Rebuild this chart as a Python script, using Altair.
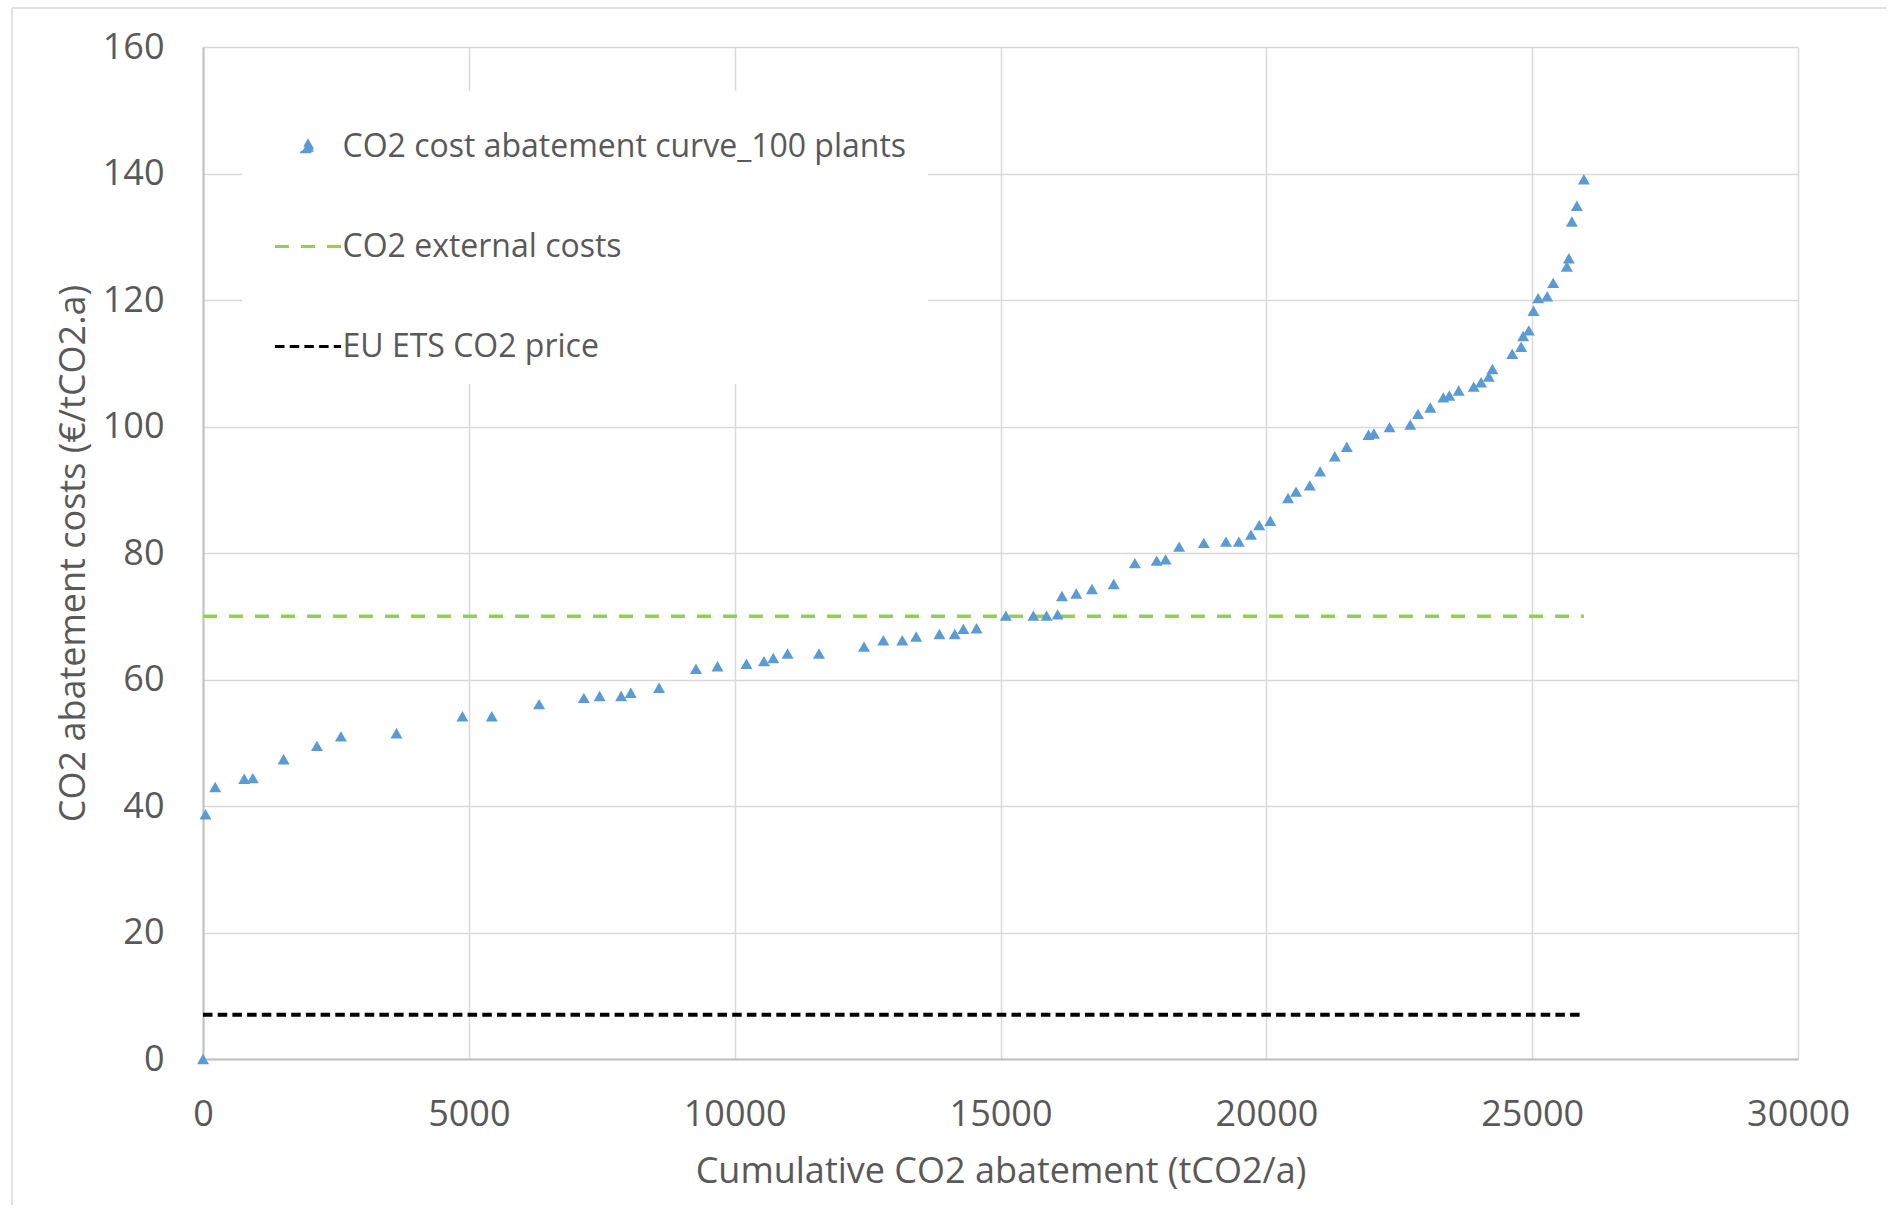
import altair as alt
import pandas as pd

# Cumulative abatement (tCO2/a) and abatement cost (EUR/tCO2.a) per plant, sorted by cost
abatement_x = [
    0, 47, 229, 775, 937, 1516, 2143, 2594, 3639, 4879,
    5431, 6321, 7163, 7460, 7864, 8046, 8578, 9272, 9677, 10222,
    10551, 10726, 10995, 11586, 12433, 12796, 13152, 13414, 13851, 14140,
    14301, 14550, 15101, 15618, 15866, 16075, 16156, 16425, 16720, 17130,
    17527, 17937, 18105, 18360, 18824, 19241, 19483, 19711, 19866, 20075,
    20408, 20559, 20817, 21011, 21288, 21514, 21922, 22023, 22318, 22707,
    22852, 23084, 23329, 23442, 23618, 23901, 24039, 24184, 24253, 24624,
    24793, 24831, 24937, 25025, 25113, 25282, 25395, 25652, 25690, 25747,
    25841, 25973,
]
abatement_cost = [
    0.0, 38.7, 43.0, 44.3, 44.4, 47.4, 49.5, 51.0, 51.5, 54.2,
    54.2, 56.1, 57.1, 57.4, 57.4, 57.9, 58.7, 61.7, 62.1, 62.5,
    62.9, 63.4, 64.1, 64.1, 65.2, 66.2, 66.2, 66.8, 67.2, 67.2,
    68.0, 68.1, 70.1, 70.1, 70.1, 70.3, 73.2, 73.6, 74.3, 75.1,
    78.4, 78.8, 79.0, 81.0, 81.6, 81.8, 81.8, 82.9, 84.4, 85.1,
    88.7, 89.7, 90.7, 92.9, 95.3, 96.8, 98.7, 98.9, 99.9, 100.3,
    102.0, 103.0, 104.6, 104.9, 105.7, 106.3, 107.0, 107.9, 109.1, 111.5,
    112.6, 114.3, 115.2, 118.3, 120.3, 120.6, 122.7, 125.3, 126.6, 132.4,
    134.9, 139.1,
]

# Reference price levels (EUR/tCO2)
external_cost = 70
ets_price = 7
line_start = 0
line_end = 25973

series_names = [
    "CO2 cost abatement curve_100 plants",
    "CO2 external costs",
    "EU ETS CO2 price",
]
series_colors = ["#5B9BD5", "#92D050", "#000000"]

x_ticks = [0, 5000, 10000, 15000, 20000, 25000, 30000]
y_ticks = [0, 20, 40, 60, 80, 100, 120, 140, 160]

points = pd.DataFrame({"x": abatement_x, "y": abatement_cost, "series": series_names[0]})
ext_line = pd.DataFrame({"x": [line_start, line_end], "y": [external_cost] * 2, "series": series_names[1]})
ets_line = pd.DataFrame({"x": [line_start, line_end], "y": [ets_price] * 2, "series": series_names[2]})

FONT = "Open Sans"
TEXT = "#595959"
EXT_DASH = [14, 12]
ETS_DASH = [9.5, 5.2]

axis_style = dict(
    labelFont=FONT, labelFontSize=36, labelColor=TEXT, labelFlush=False,
    titleFont=FONT, titleFontSize=36, titleFontWeight="normal", titleColor=TEXT,
    grid=True, gridColor="#d9d9d9", gridWidth=1.5,
    domainColor="#bfbfbf", domainWidth=2, ticks=False,
)

x_enc = alt.X(
    "x:Q",
    scale=alt.Scale(domain=[0, 30000], nice=False),
    axis=alt.Axis(values=x_ticks, format="d", title="Cumulative CO2 abatement  (tCO2/a)",
                  labelPadding=38, titlePadding=22, **axis_style),
)
y_enc = alt.Y(
    "y:Q",
    scale=alt.Scale(domain=[0, 160], nice=False),
    axis=alt.Axis(values=y_ticks, format="d", title="CO2 abatement costs (€/tCO2.a)",
                  labelPadding=39, titlePadding=10, **axis_style),
)

first, second = series_names[0], series_names[1]
# small triangle drawn inside the wide legend symbol box
tri_path = "M0,-0.16L0.18,0.16L-0.18,0.16Z"
legend = alt.Legend(
    title=None,
    orient="none",
    legendX=39,
    legendY=44,
    fillColor="white",
    padding=21,
    symbolOffset=10.5,
    symbolSize=4356,
    symbolType=alt.ExprRef(f"datum.value === '{first}' ? '{tri_path}' : 'stroke'"),
    symbolFillColor=alt.ExprRef(f"datum.value === '{first}' ? '{series_colors[0]}' : 'transparent'"),
    symbolStrokeColor=alt.ExprRef(
        f"datum.value === '{first}' ? 'transparent' : (datum.value === '{second}' ? '{series_colors[1]}' : '{series_colors[2]}')"
    ),
    symbolStrokeWidth=3,
    symbolDash=alt.ExprRef(f"datum.value === '{second}' ? {EXT_DASH} : {ETS_DASH}"),
    symbolOpacity=1,
    labelOffset=0,
    rowPadding=49,
    labelFont=FONT,
    labelFontSize=32,
    labelColor=TEXT,
    labelLimit=2000,
)
color_enc = alt.Color("series:N", scale=alt.Scale(domain=series_names, range=series_colors), legend=legend)

ext_layer = alt.Chart(ext_line).mark_line().encode(
    x=x_enc, y=y_enc, color=color_enc,
    strokeWidth=alt.value(3.5), strokeDash=alt.value(EXT_DASH),
)
ets_layer = alt.Chart(ets_line).mark_line().encode(
    x=x_enc, y=y_enc, color=color_enc,
    strokeWidth=alt.value(4), strokeDash=alt.value(ETS_DASH),
)
point_layer = alt.Chart(points).mark_point(shape="triangle-up", filled=True).encode(
    x=x_enc, y=y_enc, color=color_enc,
    size=alt.value(144), opacity=alt.value(1),
)

# thin outer frame of the chart area (left and top edges)
frame_data = pd.DataFrame({"edge": [0]})
frame_left = alt.Chart(frame_data).mark_rule(color="#d9d9d9", strokeWidth=1.5).encode(
    x=alt.value(-191), y=alt.value(-39), y2=alt.value(1158)
)
frame_top = alt.Chart(frame_data).mark_rule(color="#d9d9d9", strokeWidth=1.5).encode(
    x=alt.value(-191), x2=alt.value(1684), y=alt.value(-39)
)

chart = (
    alt.layer(frame_left, frame_top, ext_layer, ets_layer, point_layer)
    .properties(
        width=1595,
        height=1012,
        padding={"left": 11, "top": 7, "right": 0, "bottom": 0},
        background="white",
    )
    .configure_view(stroke=None)
)

chart.save("out.html", embed_options={"renderer": "svg", "actions": False})
